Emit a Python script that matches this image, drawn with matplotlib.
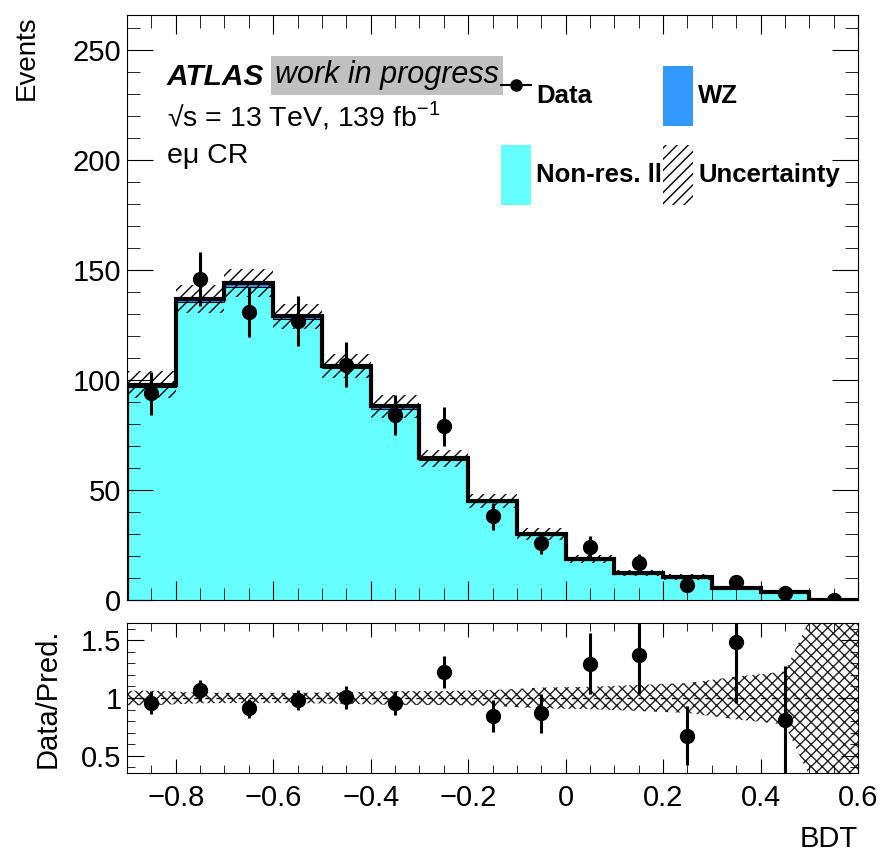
import numpy as np
import matplotlib
matplotlib.use("Agg")
import matplotlib.pyplot as plt
from matplotlib.lines import Line2D
from matplotlib.patches import Patch

plt.rcParams['font.family'] = ['Liberation Sans', 'DejaVu Sans']
plt.rcParams['mathtext.fontset'] = 'custom'
plt.rcParams['mathtext.rm'] = 'Liberation Sans'
plt.rcParams['hatch.linewidth'] = 1.0

# binning of the BDT score
edges = np.round(np.arange(-0.9, 0.6001, 0.1), 2)
centers = 0.5 * (edges[:-1] + edges[1:])

# stacked backgrounds
nonres = [96.8, 135.5, 142.5, 127.6, 105.3, 87.0, 63.7, 44.4, 29.6, 18.2, 12.2, 10.2, 5.3, 3.6, 0.2]
wz = [1.2, 1.5, 1.5, 1.4, 1.2, 1.0, 0.8, 0.6, 0.4, 0.3, 0.2, 0.2, 0.1, 0.1, 0.05]
# absolute uncertainty on the total prediction
unc = [6.2, 6.3, 6.3, 5.8, 5.4, 5.3, 3.9, 3.1, 2.7, 1.8, 1.4, 1.35, 1.0, 0.85, 0.28]
# observed events
data = [94, 146, 131, 127, 107, 84, 79, 38, 26, 24, 17, 7, 8, 3, 0]

nonres = np.array(nonres)
wz = np.array(wz)
unc = np.array(unc)
data = np.array(data, dtype=float)
total = nonres + wz

fig = plt.figure(figsize=(8.84, 8.56), dpi=100)
ax = fig.add_axes([0.1437, 0.299, 0.8269, 0.6835])
rax = fig.add_axes([0.1437, 0.097, 0.8269, 0.1752])

# ---- main panel
ax.stairs(nonres, edges, fill=True, color='#66ffff', zorder=1)
ax.stairs(total, edges, baseline=nonres, fill=True, color='#3399ff', zorder=1)
ax.stairs(nonres, edges, color='black', lw=0.8, baseline=None, zorder=2)
ax.bar(centers, 2 * unc, width=0.1, bottom=total - unc, fill=False,
       hatch='///', edgecolor='black', lw=0, zorder=3)
ax.stairs(total, edges, color='black', lw=3, zorder=4)
ax.errorbar(centers, data, yerr=np.sqrt(data), fmt='o', color='black',
            ms=10, elinewidth=2.2, capsize=0, zorder=5)

ax.set_xlim(-0.9, 0.6)
ax.set_ylim(0, 266)
ax.set_xticks(np.arange(-0.8, 0.61, 0.2))
ax.set_xticks(np.arange(-0.9, 0.61, 0.05), minor=True)
ax.set_yticks(np.arange(0, 251, 50))
ax.set_yticks(np.arange(0, 261, 10), minor=True)
ax.tick_params(axis='both', which='both', direction='in', top=True, right=True,
               labelsize=21, pad=4)
ax.tick_params(axis='y', which='major', length=19)
ax.tick_params(axis='y', which='minor', length=9.5)
ax.tick_params(axis='x', which='major', length=14)
ax.tick_params(axis='x', which='minor', length=9)
ax.tick_params(axis='x', labelbottom=False)
ax.set_ylabel('Events', fontsize=20, loc='top', labelpad=24)

ax.text(0.0547, 0.880, 'ATLAS', transform=ax.transAxes, fontsize=21.5,
        weight='bold', style='italic', va='baseline')
ax.text(0.2025, 0.883, 'work in progress', transform=ax.transAxes, fontsize=22,
        style='italic', va='baseline',
        bbox=dict(facecolor='#c0c0c0', edgecolor='none', pad=3))
ax.text(0.0547, 0.810, '√s = 13 TeV, 139 fb$^{-1}$', transform=ax.transAxes,
        fontsize=20.5, va='baseline')
ax.text(0.0547, 0.7475, 'eμ CR', transform=ax.transAxes, fontsize=20.5, va='baseline')

handles = [Line2D([], [], color='black', marker='o', ms=8, lw=1.5),
           Patch(facecolor='#66ffff', edgecolor='none'),
           Patch(facecolor='#3399ff', edgecolor='none'),
           Patch(facecolor='none', edgecolor='black', hatch='///', lw=0)]
labels = ['Data', 'Non-res. ll', 'WZ', 'Uncertainty']
ax.legend(handles, labels, ncol=2, loc='upper left', bbox_to_anchor=(0.511, 0.913),
          frameon=False, borderpad=0, borderaxespad=0, handlelength=1.17,
          handleheight=3.2, handletextpad=0.2, columnspacing=0.05,
          labelspacing=0.75, prop=dict(weight='bold', size=18.5))

# ---- ratio panel
rel = unc / total
band_x = np.concatenate([[edges[0]], centers, [edges[-1]]])
band_rel = np.concatenate([[rel[0]], rel, [rel[-1]]])
rax.fill_between(band_x, 1 - band_rel, 1 + band_rel, facecolor='none',
                 edgecolor='#222222', hatch='xxx', lw=0, zorder=1)
rax.axhline(1, color='black', ls=(0, (4, 4)), lw=1, zorder=2)
ok = data > 0
rax.errorbar(centers[ok], data[ok] / total[ok], yerr=np.sqrt(data[ok]) / total[ok],
             fmt='o', color='black', ms=10, elinewidth=2.2, capsize=0, zorder=3)

rax.set_xlim(-0.9, 0.6)
rax.set_ylim(0.35, 1.65)
rax.set_xticks(np.arange(-0.8, 0.61, 0.2))
rax.set_xticks(np.arange(-0.9, 0.61, 0.05), minor=True)
rax.set_yticks([0.5, 1.0, 1.5])
rax.set_yticklabels(['0.5', '1', '1.5'])
rax.set_yticks(np.arange(0.4, 1.65, 0.1), minor=True)
rax.tick_params(axis='both', which='both', direction='in', top=True, right=True,
                labelsize=21)
rax.tick_params(axis='x', which='major', length=10, pad=8)
rax.tick_params(axis='x', which='minor', length=6)
rax.tick_params(axis='y', which='major', length=12, pad=4)
rax.tick_params(axis='y', which='minor', length=6)
rax.set_xticklabels(['−0.8', '−0.6', '−0.4', '−0.2', '0', '0.2', '0.4', '0.6'])
rax.set_xlabel('BDT', fontsize=21, loc='right', labelpad=9)
rax.set_ylabel('Data/Pred.', fontsize=21, labelpad=14)

fig.savefig('out.png', dpi=100)
